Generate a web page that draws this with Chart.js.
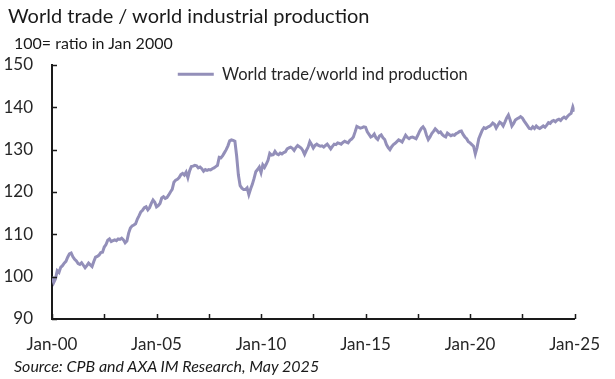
<!DOCTYPE html>
<html>
<head>
<meta charset="utf-8">
<script src="https://cdn.jsdelivr.net/npm/chart.js@4.4.1/dist/chart.umd.min.js"></script>
<style>
  body { margin: 0; background: #fff; }
  #wrap { position: relative; width: 615px; height: 379px; font-family: Lato, 'Open Sans', sans-serif; color: #1a1a1a; }
  #chart { position: absolute; left: 0; top: 0; }
  .txt { position: absolute; white-space: nowrap; }
  #title { left: 8px; top: 3px; font-size: 20px; }
  #unit { left: 14px; top: 33px; font-size: 16px; }
  #source { left: 14px; top: 356px; font-size: 16px; font-style: italic; }
</style>
</head>
<body>
<div id="wrap">
  <canvas id="chart" width="615" height="379"></canvas>
  <div class="txt" id="title">World trade / world industrial production</div>
  <div class="txt" id="unit">100= ratio in Jan 2000</div>
  <div class="txt" id="source">Source: CPB and AXA IM Research, May 2025</div>
</div>
<script>
// Monthly series, Jan 2000 .. Jan 2025 (one row per year)
const tradeRatio = [
    100.0, 98.6, 99.5, 101.4, 101.0, 102.2, 102.6, 103.2, 103.6, 104.6, 105.4, 105.6,
    104.7, 104.1, 103.7, 103.1, 102.9, 103.3, 102.7, 102.1, 102.6, 103.2, 102.8, 102.4,
    103.6, 104.6, 104.8, 105.1, 105.7, 105.8, 107.0, 107.6, 108.6, 108.9, 108.3, 108.5,
    108.7, 108.5, 108.9, 108.8, 109.1, 108.7, 108.0, 108.4, 110.3, 111.5, 112.0, 112.2,
    112.5, 113.6, 114.4, 115.3, 115.7, 116.3, 116.5, 115.8, 116.3, 117.3, 118.1, 117.6,
    116.5, 116.8, 117.3, 118.6, 118.9, 118.5, 118.7, 119.3, 120.0, 120.6, 122.3, 122.8,
    123.0, 123.4, 124.1, 124.4, 124.0, 124.7, 123.4, 125.0, 126.0, 126.1, 126.3, 126.2,
    125.7, 125.9, 125.5, 124.9, 125.3, 125.1, 125.3, 125.2, 125.5, 125.7, 126.0, 126.3,
    128.2, 128.1, 128.6, 129.3, 130.0, 130.9, 132.1, 132.3, 132.2, 132.0, 128.5, 124.0,
    121.5, 120.9, 120.6, 120.6, 121.0, 119.4, 120.7, 121.8, 123.2, 124.8, 125.3, 125.9,
    124.6, 126.4, 125.8, 126.6, 127.5, 129.1, 128.7, 128.8, 129.6, 129.0, 128.8, 129.2,
    129.0, 129.3, 129.5, 130.2, 130.4, 130.6, 130.3, 129.8, 130.5, 131.0, 130.7, 130.4,
    129.8, 128.9, 129.8, 130.6, 131.9, 131.2, 130.4, 131.0, 131.3, 131.0, 130.8, 130.9,
    130.6, 131.0, 131.3, 130.8, 130.2, 130.8, 131.3, 131.2, 131.6, 131.5, 131.3, 131.7,
    132.0, 131.8, 131.6, 132.2, 132.5, 133.0, 134.2, 135.5, 135.3, 135.1, 135.2, 135.4,
    135.3, 134.2, 133.6, 133.0, 133.2, 133.7, 132.8, 132.4, 133.2, 133.5, 132.8, 132.4,
    131.2, 130.5, 130.0, 130.7, 131.2, 131.5, 131.9, 132.3, 132.1, 131.8, 132.6, 133.4,
    132.9, 132.6, 132.9, 133.0, 132.8, 132.6, 133.4, 134.3, 135.0, 135.4, 134.8, 133.4,
    132.4, 133.0, 133.8, 134.3, 134.9, 134.5, 134.0, 134.2, 133.6, 133.2, 133.0, 133.9,
    133.6, 133.3, 133.5, 133.4, 133.8, 134.0, 134.3, 134.4, 133.6, 133.0, 132.6, 131.9,
    131.6, 131.2, 130.8, 129.0, 130.5, 132.6, 133.6, 134.6, 135.2, 135.0, 135.3, 135.5,
    135.8, 136.3, 136.0, 135.1, 135.8, 136.5, 136.2, 135.6, 136.5, 137.5, 138.2, 137.0,
    135.6, 136.2, 137.0, 137.3, 137.5, 137.8, 137.5, 136.8, 136.2, 135.6, 135.0, 134.9,
    135.4, 135.0, 135.6, 135.2, 135.0, 135.3, 135.6, 135.3, 135.8, 136.4, 136.2, 136.7,
    136.9, 136.6, 137.0, 137.2, 136.9, 137.4, 137.7, 137.4, 137.9, 138.3, 138.6, 140.1,
    139.0
];

// x tick labels, one every 5 years (60 months); tick marks every 30 months
const xTickLabels = ['Jan-00', 'Jan-05', 'Jan-10', 'Jan-15', 'Jan-20', 'Jan-25'];
const yTicks = [90, 100, 110, 120, 130, 140, 150];

const lineColor = '#938fb9';
const axisColor = '#1a1a1a';
const tickFont = { family: 'Lato, sans-serif', size: 17 };

// small tick marks drawn inside the plot, like the original
const innerTicks = {
    id: 'innerTicks',
    afterDraw(chart) {
        const ctx = chart.ctx;
        const xs = chart.scales.x, ys = chart.scales.y;
        ctx.save();
        ctx.strokeStyle = axisColor;
        ctx.lineWidth = 1.5;
        ctx.beginPath();
        xs.ticks.forEach(t => {
            const px = Math.round(xs.getPixelForValue(t.value)) + 0.5;
            ctx.moveTo(px, xs.top);
            ctx.lineTo(px, xs.top - 5);
        });
        ys.ticks.forEach(t => {
            const py = Math.round(ys.getPixelForValue(t.value)) + 0.5;
            ctx.moveTo(ys.right, py);
            ctx.lineTo(ys.right + 5, py);
        });
        ctx.stroke();
        ctx.restore();
    }
};

// centre the in-plot legend horizontally over the chart area
const centreLegend = {
    id: 'centreLegend',
    beforeDraw(chart) {
        const lg = chart.legend, ca = chart.chartArea;
        lg.left = (ca.left + ca.right) / 2 - lg.width / 2 + 14;
        lg.top = ca.top;
    }
};

new Chart(document.getElementById('chart'), {
    type: 'line',
    data: {
        datasets: [{
            label: 'World trade/world ind production',
            data: tradeRatio.map((v, i) => ({ x: i, y: v })),
            borderColor: lineColor,
            backgroundColor: lineColor,
            borderWidth: 3,
            pointRadius: 0,
            tension: 0
        }]
    },
    options: {
        responsive: false,
        animation: false,
        layout: { padding: { left: 0, top: 65, right: 27, bottom: 0 } },
        plugins: {
            legend: {
                position: 'chartArea',
                align: 'start',
                labels: {
                    usePointStyle: true,
                    pointStyle: 'line',
                    pointStyleWidth: 36,
                    padding: 1,
                    color: '#262626',
                    font: { family: 'Lato, sans-serif', size: 16.5 }
                }
            },
            tooltip: { enabled: false }
        },
        scales: {
            x: {
                type: 'linear',
                min: 0,
                max: tradeRatio.length - 1,
                afterFit(scale) { scale.height = 60; },
                afterBuildTicks(scale) {
                    scale.ticks = [];
                    for (let v = 0; v <= 300; v += 30) scale.ticks.push({ value: v });
                },
                ticks: {
                    autoSkip: false,
                    maxRotation: 0,
                    padding: 15,
                    color: '#262626',
                    font: tickFont,
                    callback: v => (v % 60 === 0 ? xTickLabels[v / 60] : '')
                },
                grid: { display: true, drawOnChartArea: false, drawTicks: false },
                border: { color: axisColor, width: 2 }
            },
            y: {
                min: 90,
                max: 150,
                afterFit(scale) { scale.width = 52; },
                afterBuildTicks(scale) { scale.ticks = yTicks.map(v => ({ value: v })); },
                ticks: { padding: 19, color: '#262626', font: tickFont },
                grid: { display: true, drawOnChartArea: false, drawTicks: false },
                border: { color: axisColor, width: 2 }
            }
        }
    },
    plugins: [innerTicks, centreLegend]
});
</script>
</body>
</html>
